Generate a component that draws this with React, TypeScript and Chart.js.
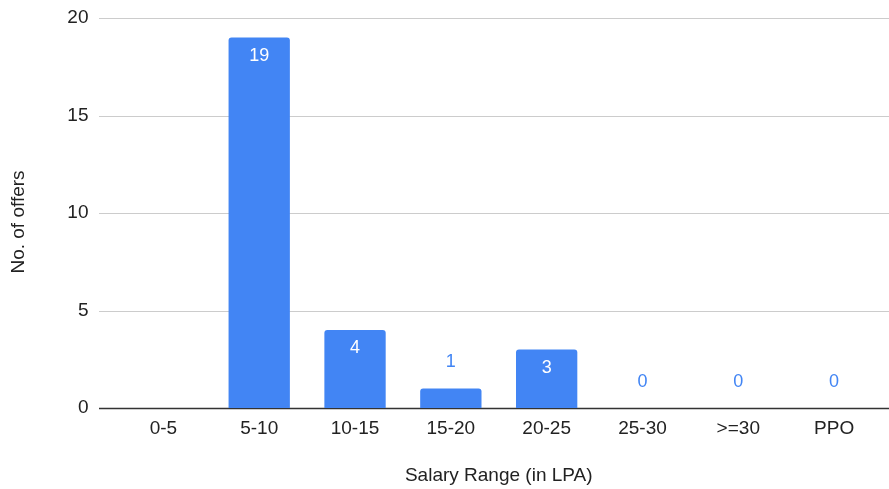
import React, { useEffect, useRef } from "react";
import { Chart, registerables } from "chart.js";

Chart.register(...registerables);

const categories = ["0-5", "5-10", "10-15", "15-20", "20-25", "25-30", ">=30", "PPO"];
const offers: (number | null)[] = [null, 19, 4, 1, 3, 0, 0, 0];
const yTicks = [0, 5, 10, 15, 20];
const xTitle = "Salary Range (in LPA)";
const yTitle = "No. of offers";

const BLUE = "#4285F4";
const TEXT = "#222222";
const FONT = "'Liberation Sans', Arial, sans-serif";
const GRID_LEFT = 99;
const GRID_RIGHT = 889;

const gridPlugin = {
  id: "fullGrid",
  beforeDatasetsDraw(chart: any) {
    const { ctx } = chart;
    const y = chart.scales.y;
    ctx.save();
    yTicks.forEach((t) => {
      const py = Math.round(y.getPixelForValue(t)) + 0.5;
      ctx.beginPath();
      ctx.strokeStyle = t === 0 ? "#333333" : "#cccccc";
      ctx.lineWidth = t === 0 ? 1.5 : 1;
      ctx.moveTo(GRID_LEFT, py);
      ctx.lineTo(GRID_RIGHT, py);
      ctx.stroke();
    });
    ctx.restore();
  },
};

const labelPlugin = {
  id: "valueLabels",
  afterDatasetsDraw(chart: any) {
    const { ctx } = chart;
    const meta = chart.getDatasetMeta(0);
    const ds = chart.data.datasets[0];
    ctx.save();
    ctx.font = `18px ${FONT}`;
    ctx.textAlign = "center";
    ctx.textBaseline = "alphabetic";
    meta.data.forEach((bar: any, i: number) => {
      const v = ds.data[i];
      if (v === null || v === undefined) return;
      const h = bar.base - bar.y;
      if (h > 40) {
        ctx.fillStyle = "#ffffff";
        ctx.fillText(String(v), bar.x, bar.y + 23);
      } else {
        ctx.fillStyle = BLUE;
        ctx.fillText(String(v), bar.x, bar.y - 21.5);
      }
    });
    // y axis title, centred a little below the plot middle like the reference
    ctx.translate(18.5, 222);
    ctx.rotate(-Math.PI / 2);
    ctx.font = `19px ${FONT}`;
    ctx.fillStyle = TEXT;
    ctx.textBaseline = "middle";
    ctx.fillText(yTitle, 0, 0);
    ctx.restore();
  },
};

export default function App() {
  const ref = useRef<HTMLCanvasElement | null>(null);
  useEffect(() => {
    if (!ref.current) return;
    const chart = new Chart(ref.current, {
      type: "bar",
      data: {
        labels: categories,
        datasets: [
          {
            data: offers,
            backgroundColor: BLUE,
            borderRadius: { topLeft: 3, topRight: 3, bottomLeft: 0, bottomRight: 0 },
            borderSkipped: "bottom",
            categoryPercentage: 1,
            barPercentage: 0.64,
          },
        ],
      },
      options: {
        animation: false,
        responsive: false,
        maintainAspectRatio: false,
        layout: { padding: { top: 18, right: 7, bottom: 0, left: 0 } },
        plugins: { legend: { display: false }, tooltip: { enabled: false } },
        scales: {
          x: {
            grid: { display: false, drawTicks: false },
            border: { display: false },
            ticks: { color: TEXT, font: { family: FONT, size: 19 }, padding: 9 },
            title: {
              display: true,
              text: xTitle,
              color: TEXT,
              font: { family: FONT, size: 19 },
              padding: { top: 0, bottom: 2 },
            },
            afterFit: (s: any) => {
              s.height = 81;
              s.paddingLeft = 0;
              s.paddingRight = 0;
            },
          },
          y: {
            min: 0,
            max: 20,
            grid: { display: false, drawTicks: false },
            border: { display: false },
            ticks: {
              stepSize: 5,
              color: TEXT,
              font: { family: FONT, size: 19 },
              padding: 27,
            },
            title: { display: false },
            afterFit: (s: any) => {
              s.width = 115.5;
              s.paddingTop = 0;
              s.paddingBottom = 0;
            },
          },
        },
      },
      plugins: [gridPlugin, labelPlugin],
    });
    return () => chart.destroy();
  }, []);
  return (
    <div style={{ position: "fixed", left: 0, top: 0, width: 889, height: 489, background: "#fff" }}>
      <canvas ref={ref} width={889} height={489} style={{ width: 889, height: 489, display: "block" }} />
    </div>
  );
}
